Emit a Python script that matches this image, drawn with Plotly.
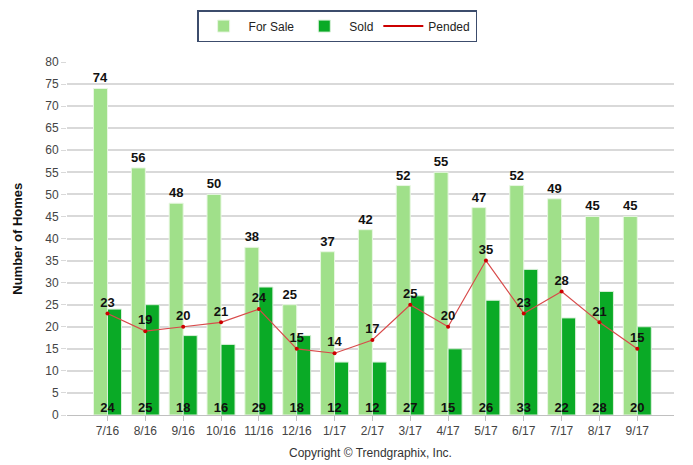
import plotly.graph_objects as go

months = ["7/16", "8/16", "9/16", "10/16", "11/16", "12/16", "1/17", "2/17",
          "3/17", "4/17", "5/17", "6/17", "7/17", "8/17", "9/17"]
for_sale = [74, 56, 48, 50, 38, 25, 37, 42, 52, 55, 47, 52, 49, 45, 45]
sold = [24, 25, 18, 16, 29, 18, 12, 12, 27, 15, 26, 33, 22, 28, 20]
pended = [23, 19, 20, 21, 24, 15, 14, 17, 25, 20, 35, 23, 28, 21, 15]
y_ticks = list(range(0, 81, 5))

FONT = "Arial, Liberation Sans, sans-serif"
LABEL_FONT = dict(family=FONT, size=13, color="#111111", weight="bold")
idx = list(range(len(months)))

fig = go.Figure()
fig.add_trace(go.Bar(
    x=idx, y=for_sale, name="For Sale",
    marker=dict(color="#a0e08a", line=dict(color="#e8f7e2", width=1)),
    text=for_sale, textposition="outside", textfont=LABEL_FONT,
    constraintext="none", cliponaxis=False,
))
fig.add_trace(go.Bar(
    x=idx, y=sold, name="Sold",
    marker=dict(color="#0aaa26", line=dict(color="#d8f0d8", width=1)),
))
fig.add_trace(go.Scatter(
    x=idx, y=pended, name="Pended", mode="lines+markers+text",
    line=dict(color="#d84a4a", width=1.2),
    marker=dict(color="#cc0000", size=4),
    text=pended, textposition="top center", textfont=LABEL_FONT,
    cliponaxis=False, showlegend=False, legendgroup="p",
))
# legend entry for Pended shown as a plain line
fig.add_trace(go.Scatter(
    x=[None], y=[None], name="Pended", mode="lines",
    line=dict(color="#cc0000", width=2), legendgroup="p",
))
fig.add_trace(go.Scatter(
    x=idx, y=[0] * len(sold), mode="text", text=sold,
    textposition="top center", textfont=LABEL_FONT,
    showlegend=False, cliponaxis=False, hoverinfo="skip",
))

fig.update_layout(
    width=685, height=457,
    margin=dict(l=59, r=19, t=54, b=50, autoexpand=False),
    paper_bgcolor="white", plot_bgcolor="white",
    barmode="group", bargap=0.26, bargroupgap=0.0,
    font=dict(family=FONT, size=12, color="#444444"),
    legend=dict(
        orientation="h", x=0.445, xanchor="center", y=1.147, yanchor="top",
        bordercolor="#3c4c6c", borderwidth=1.5, bgcolor="white",
        font=dict(family=FONT, size=12, color="#222222"),
        traceorder="normal", itemwidth=40,
    ),
    xaxis=dict(
        tickmode="array", tickvals=idx, ticktext=months,
        range=[-1.07, 14.97], showgrid=False,
        showline=True, linecolor="#c0c0c0", linewidth=1,
        ticks="outside", ticklen=5, tickcolor="#c0c0c0",
        tickfont=dict(family=FONT, size=12, color="#444444"),
        zeroline=False,
    ),
    yaxis=dict(
        range=[0, 80], tickvals=y_ticks,
        showgrid=True, gridcolor="#d9d9d9", gridwidth=1.5,
        ticks="outside", ticklen=5, tickcolor="#d9d9d9",
        tickfont=dict(family=FONT, size=12, color="#444444"),
        zeroline=False, showline=False,
    ),
    annotations=[
        dict(text="<b>Number of Homes</b>", xref="paper", yref="paper",
             x=-0.082, y=0.5, xanchor="center", yanchor="middle",
             textangle=-90, showarrow=False,
             font=dict(family=FONT, size=13, color="#111111")),
        dict(text="Copyright \u00a9 Trendgraphix, Inc.", xref="paper", yref="paper",
             x=0.5, y=-0.108, showarrow=False, xanchor="center", yanchor="middle",
             font=dict(family=FONT, size=12, color="#333333")),
    ],
)

fig.write_html("out.html")
